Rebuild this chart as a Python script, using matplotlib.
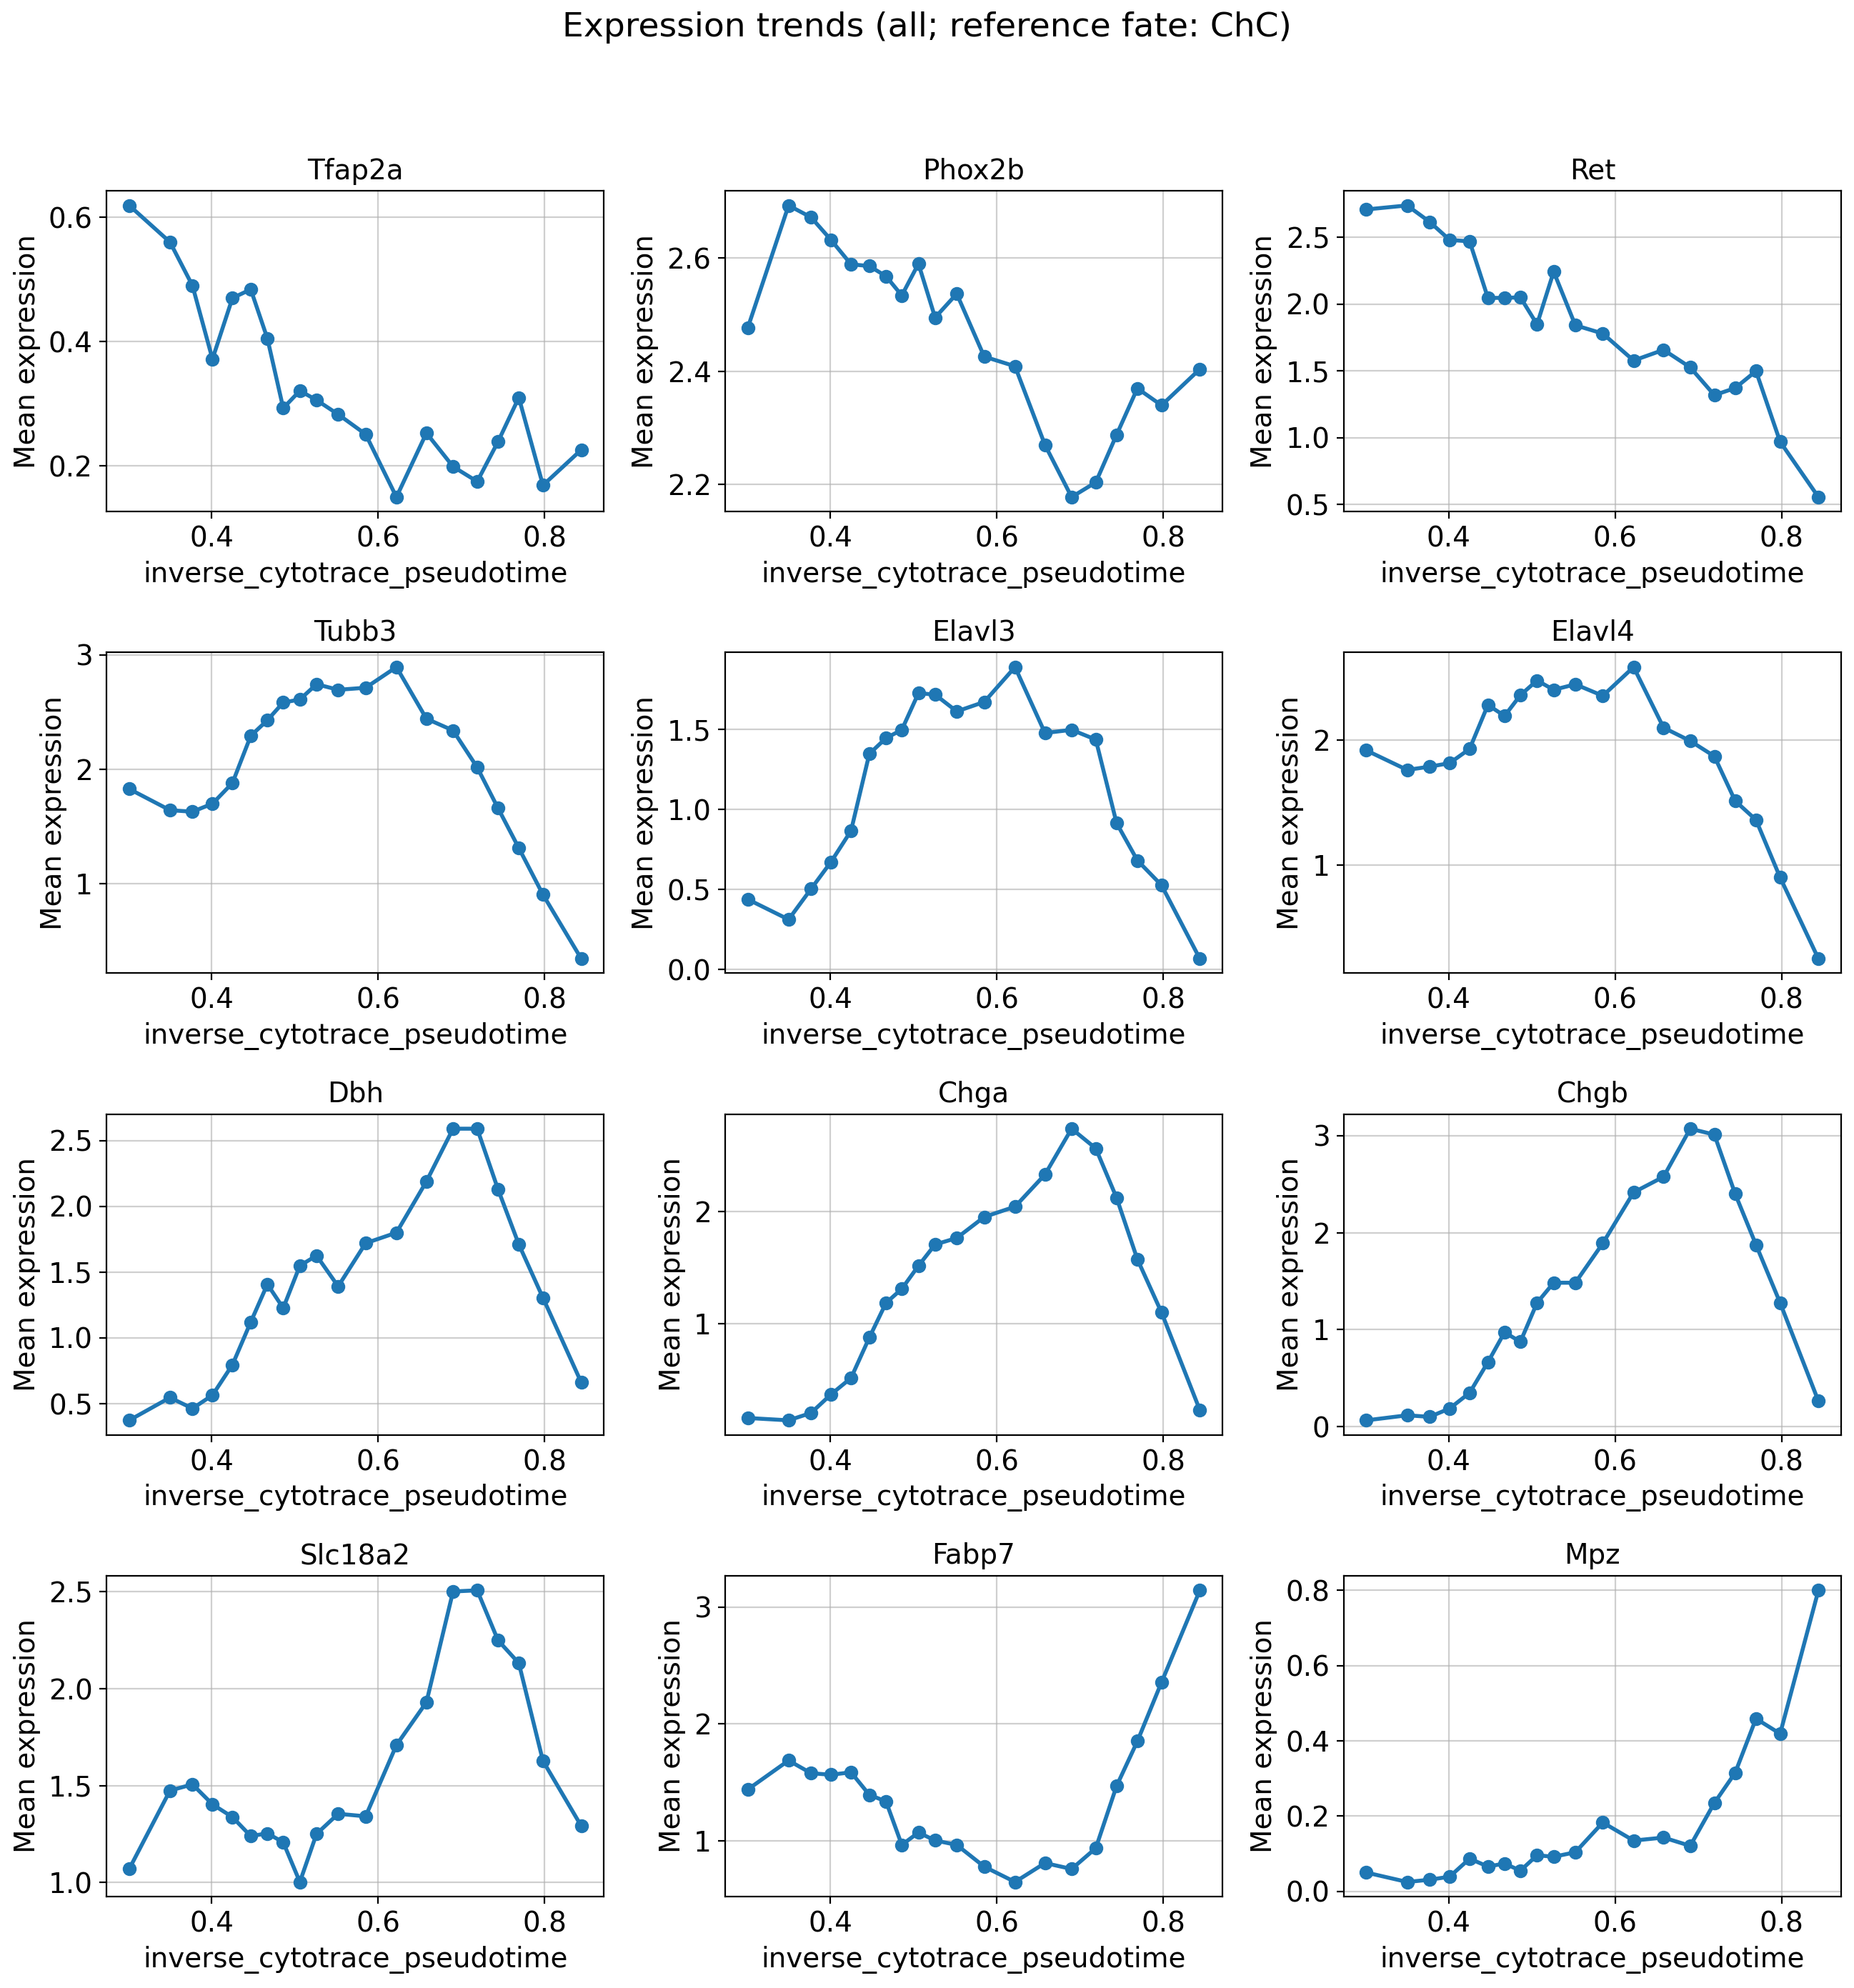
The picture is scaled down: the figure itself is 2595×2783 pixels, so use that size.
import matplotlib
matplotlib.use("Agg")
import matplotlib.pyplot as plt

# pseudotime bin centres (shared by every gene)
pseudotime = [0.301, 0.350, 0.377, 0.401, 0.425, 0.447, 0.467, 0.486, 0.506, 0.526,
              0.552, 0.585, 0.622, 0.658, 0.690, 0.719, 0.744, 0.769, 0.798, 0.844]

genes = ["Tfap2a", "Phox2b", "Ret", "Tubb3", "Elavl3", "Elavl4",
         "Dbh", "Chga", "Chgb", "Slc18a2", "Fabp7", "Mpz"]

tfap2a = [0.619, 0.560, 0.490, 0.372, 0.470, 0.484, 0.405, 0.293, 0.321, 0.306,
          0.283, 0.251, 0.150, 0.253, 0.199, 0.175, 0.239, 0.310, 0.169, 0.226]
phox2b = [2.477, 2.693, 2.672, 2.632, 2.589, 2.586, 2.568, 2.534, 2.590, 2.495,
          2.537, 2.426, 2.409, 2.270, 2.178, 2.204, 2.288, 2.370, 2.340, 2.404]
ret = [2.708, 2.738, 2.615, 2.480, 2.469, 2.046, 2.046, 2.050, 1.848, 2.242,
       1.841, 1.779, 1.577, 1.657, 1.526, 1.318, 1.371, 1.498, 0.969, 0.555]
tubb3 = [1.827, 1.641, 1.628, 1.698, 1.879, 2.292, 2.429, 2.584, 2.610, 2.744,
         2.695, 2.713, 2.894, 2.442, 2.339, 2.016, 1.659, 1.310, 0.902, 0.341]
elavl3 = [0.439, 0.313, 0.504, 0.673, 0.867, 1.348, 1.446, 1.498, 1.727, 1.718,
          1.613, 1.672, 1.890, 1.478, 1.498, 1.437, 0.915, 0.682, 0.527, 0.068]
elavl4 = [1.915, 1.759, 1.785, 1.813, 1.927, 2.279, 2.191, 2.357, 2.475, 2.400,
          2.444, 2.352, 2.582, 2.097, 1.991, 1.868, 1.511, 1.359, 0.898, 0.248]
dbh = [0.374, 0.547, 0.464, 0.565, 0.796, 1.121, 1.408, 1.227, 1.549, 1.626,
       1.392, 1.720, 1.800, 2.189, 2.590, 2.590, 2.130, 1.711, 1.305, 0.662]
chga = [0.158, 0.137, 0.203, 0.369, 0.515, 0.876, 1.185, 1.311, 1.517, 1.707,
        1.765, 1.953, 2.045, 2.332, 2.741, 2.565, 2.124, 1.575, 1.100, 0.229]
chgb = [0.067, 0.119, 0.103, 0.189, 0.350, 0.666, 0.973, 0.876, 1.277, 1.484,
        1.484, 1.890, 2.414, 2.575, 3.070, 3.009, 2.399, 1.875, 1.277, 0.265]
slc18a2 = [1.069, 1.474, 1.506, 1.403, 1.337, 1.239, 1.253, 1.207, 1.002, 1.250,
           1.354, 1.341, 1.709, 1.930, 2.502, 2.508, 2.250, 2.132, 1.627, 1.291]
fabp7 = [1.439, 1.687, 1.578, 1.565, 1.586, 1.393, 1.337, 0.965, 1.071, 1.003,
         0.965, 0.779, 0.648, 0.810, 0.759, 0.937, 1.469, 1.852, 2.356, 3.142]
mpz = [0.050, 0.025, 0.031, 0.039, 0.087, 0.066, 0.074, 0.055, 0.096, 0.092,
       0.104, 0.183, 0.135, 0.143, 0.121, 0.235, 0.315, 0.459, 0.419, 0.800]

expression = [tfap2a, phox2b, ret, tubb3, elavl3, elavl4,
              dbh, chga, chgb, slc18a2, fabp7, mpz]

plt.rcParams["font.size"] = 14

fig, axes = plt.subplots(4, 3, figsize=(12.975, 13.915), dpi=200)
fig.subplots_adjust(left=0.0575, right=0.993, top=0.904, bottom=0.046,
                    wspace=0.244, hspace=0.439)

for ax, gene, vals in zip(axes.flat, genes, expression):
    ax.plot(pseudotime, vals, marker="o", linewidth=2, markersize=6)
    ax.set_title(gene, fontsize=14)
    ax.set_xlabel("inverse_cytotrace_pseudotime")
    ax.set_ylabel("Mean expression")
    ax.grid(True, alpha=0.6)

fig.suptitle("Expression trends (all; reference fate: ChC)", fontsize=17, y=0.986, va="center")

fig.savefig("out.png", dpi=200)
